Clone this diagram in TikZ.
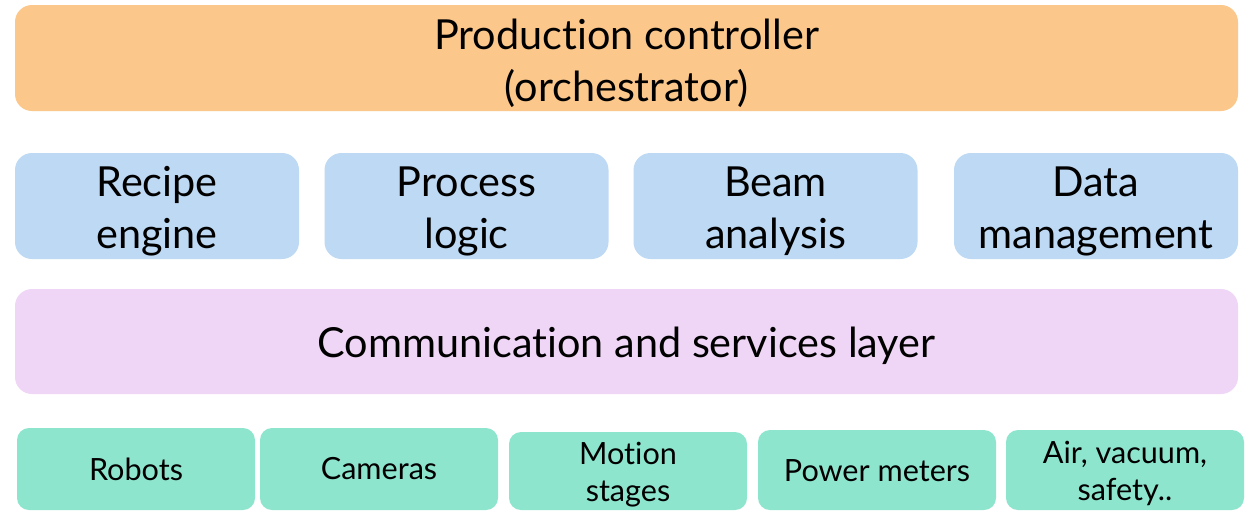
\documentclass[tikz,border=0pt]{standalone}
\usepackage{fontspec}
\setmainfont{Lato}[Ligatures=NoCommon]
\definecolor{orangefill}{HTML}{FBC78B}
\definecolor{bluefill}{HTML}{BDD9F3}
\definecolor{purplefill}{HTML}{F0D6F6}
\definecolor{greenfill}{HTML}{8EE5CE}
\tikzset{
  layerbox/.style={rounded corners=8.5pt, inner sep=0pt},
  bigtext/.style={align=center, inner sep=0pt, font=\fontsize{20.7}{26}\selectfont},
  smalltext/.style={align=center, inner sep=0pt, font=\fontsize{15.3}{18.5}\selectfont},
  orchbox/.style={layerbox, fill=orangefill, minimum width=611.5pt, minimum height=53pt},
  modbox/.style={layerbox, fill=bluefill, minimum width=142pt, minimum height=53pt},
  commbox/.style={layerbox, fill=purplefill, minimum width=611.5pt, minimum height=52.5pt},
  devbox/.style={rounded corners=6pt, inner sep=0pt, fill=greenfill, minimum width=119pt},
}
\begin{document}
\begin{tikzpicture}[x=0.5pt,y=-0.5pt]
\useasboundingbox (0,0) rectangle (1246,510);
\fill[white] (0,0) rectangle (1246,510);
\node[orchbox, label={[bigtext,yshift=-2.5pt]center:{Production controller\\(orchestrator)}}] (orch) at (626.5,58) {};
\node[modbox, label={[bigtext,yshift=-2.5pt]center:{Recipe\\engine}}] (recipe) at (157,206) {};
\node[modbox, label={[bigtext,yshift=-2.5pt]center:{Process\\logic}}] (logic) at (466.5,206) {};
\node[modbox, label={[bigtext,yshift=-2.5pt]center:{Beam\\analysis}}] (beam) at (775.5,206) {};
\node[modbox, label={[bigtext,yshift=-2.5pt]center:{Data\\management}}] (data) at (1096,206) {};
\node[commbox, label={[bigtext,yshift=-2pt]center:{Communication and services layer}}] (comm) at (626.5,341.5) {};
\node[devbox, minimum height=41pt, label={[smalltext]center:Robots}] (robots) at (136,469) {};
\node[devbox, minimum height=41pt, label={[smalltext]center:Cameras}] (cameras) at (379,469) {};
\node[devbox, minimum height=39pt, label={[smalltext,yshift=-2pt]center:{Motion\\stages}}] (motion) at (628,471) {};
\node[devbox, minimum height=40pt, label={[smalltext,yshift=-0.5pt]center:Power meters}] (power) at (877,470) {};
\node[devbox, minimum height=40pt, label={[smalltext,yshift=-1.5pt]center:{Air, vacuum,\\safety..}}] (air) at (1125,470) {};
\end{tikzpicture}
\end{document}
